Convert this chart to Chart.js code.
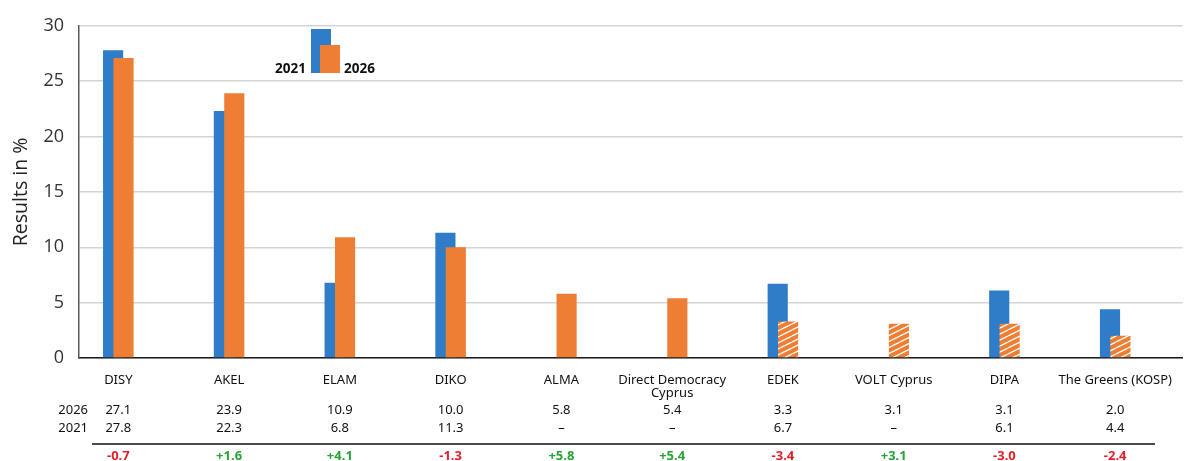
<!DOCTYPE html>
<html>
<head>
<meta charset="utf-8">
<script src="https://cdn.jsdelivr.net/npm/chart.js@4.4.1/dist/chart.umd.min.js"></script>
<style>
  html, body { margin: 0; padding: 0; background: #fff; }
  canvas { display: block; }
</style>
</head>
<body>
<canvas id="chart" width="1188" height="461"></canvas>
<script>
// ── Cyprus parliamentary election: 2021 vs 2026 ──

const parties = ['DISY', 'AKEL', 'ELAM', 'DIKO', 'ALMA', ['Direct Democracy', 'Cyprus'], 'EDEK', 'VOLT Cyprus', 'DIPA', 'The Greens (KOSP)'];
const results2021 = [27.8, 22.3, 6.8, 11.3, null, null, 6.7, null, 6.1, 4.4];
const results2026 = [27.1, 23.9, 10.9, 10.0, 5.8, 5.4, 3.3, 3.1, 3.1, 2.0];
const hatched2026 = [false, false, false, false, false, false, true, true, true, true];
const changes = ['-0.7', '+1.6', '+4.1', '-1.3', '+5.8', '+5.4', '-3.4', '+3.1', '-3.0', '-2.4'];
const yTicks = [0, 5, 10, 15, 20, 25, 30];
const seriesLabels = ['2021', '2026'];

const BLUE = '#2f7cc8';
const ORANGE = '#ee7e33';
const TABLE_FONT = '"Noto Sans", sans-serif';

// x range: group centres sit ~40px right of the y axis, 111px apart
const X_MIN = -0.355, X_MAX = 9.609;
const SHIFT = 0.047; // half the blue/orange offset, in category units

function hatchPattern() {
  const c = document.createElement('canvas');
  c.width = 12; c.height = 6;
  const g = c.getContext('2d');
  g.fillStyle = ORANGE;
  g.fillRect(0, 0, 12, 6);
  g.strokeStyle = '#fff';
  g.lineWidth = 1.3;
  for (const dy of [-6, 0, 6]) {
    g.beginPath();
    g.moveTo(0, 6 + dy);
    g.lineTo(12, dy);
    g.stroke();
  }
  return g.createPattern(c, 'repeat');
}

const hatch = hatchPattern();
const fmt = v => v == null ? '–' : v.toFixed(1);

// legend: small bar pair with year labels
const legendPlugin = {
  id: 'yearLegend',
  afterDatasetsDraw(chart) {
    const ctx = chart.ctx;
    ctx.save();
    ctx.fillStyle = BLUE;
    ctx.fillRect(311, 29, 20, 44);
    ctx.fillStyle = ORANGE;
    ctx.fillRect(320, 45, 20, 28);
    ctx.fillStyle = '#111';
    ctx.font = 'bold 13.5px ' + TABLE_FONT;
    ctx.textBaseline = 'alphabetic';
    ctx.textAlign = 'right';
    ctx.fillText(seriesLabels[0], 306, 73);
    ctx.textAlign = 'left';
    ctx.fillText(seriesLabels[1], 344, 73);
    ctx.restore();
  }
};

// value table under the category labels
const tablePlugin = {
  id: 'valueTable',
  afterDraw(chart) {
    const ctx = chart.ctx;
    const x = chart.scales.x;
    ctx.save();
    ctx.textBaseline = 'middle';
    ctx.font = '13px ' + TABLE_FONT;
    ctx.fillStyle = '#111';
    ctx.textAlign = 'right';
    ctx.fillText(seriesLabels[1], 88, 410);
    ctx.fillText(seriesLabels[0], 88, 428);
    ctx.textAlign = 'center';
    parties.forEach((p, i) => {
      const px = x.getPixelForValue(i);
      ctx.font = '13px ' + TABLE_FONT;
      ctx.fillStyle = '#111';
      ctx.fillText(fmt(results2026[i]), px, 410);
      ctx.fillText(fmt(results2021[i]), px, 428);
      ctx.font = 'bold 13px ' + TABLE_FONT;
      ctx.fillStyle = changes[i][0] === '-' ? '#e3202a' : '#2aa336';
      ctx.fillText(changes[i], px, 456);
    });
    ctx.strokeStyle = '#111';
    ctx.lineWidth = 1.5;
    ctx.beginPath();
    ctx.moveTo(92, 444);
    ctx.lineTo(1155, 444);
    ctx.stroke();
    ctx.restore();
  }
};

const hiddenX = (min, max) => ({
  type: 'linear', display: false, offset: false, bounds: 'data', min, max,
  grid: { display: false }
});

new Chart(document.getElementById('chart'), {
  type: 'bar',
  data: {
    // orange first so it is painted on top of the blue bar
    datasets: [
      {
        label: seriesLabels[1],
        xAxisID: 'xo',
        data: results2026.map((v, i) => ({ x: i, y: v })),
        backgroundColor: hatched2026.map(h => h ? hatch : ORANGE)
      },
      {
        label: seriesLabels[0],
        xAxisID: 'xb',
        data: results2021.map((v, i) => ({ x: i, y: v })),
        backgroundColor: BLUE
      }
    ]
  },
  options: {
    responsive: false,
    animation: false,
    grouped: false,
    categoryPercentage: 1,
    barPercentage: 0.182,
    layout: { padding: { top: 22, left: 0, right: 0, bottom: 0 } },
    plugins: { legend: { display: false }, tooltip: { enabled: false } },
    scales: {
      x: {
        type: 'linear',
        offset: false,
        bounds: 'data',
        min: X_MIN,
        max: X_MAX,
        afterBuildTicks: s => { s.ticks = parties.map((_, i) => ({ value: i })); },
        afterFit: s => { s.height = 103; },
        grid: { display: false, drawTicks: false },
        border: { display: true, color: '#1a1a1a', width: 1.5 },
        ticks: {
          autoSkip: false,
          maxRotation: 0,
          padding: 16,
          color: '#111',
          font: { family: TABLE_FONT, size: 13, lineHeight: 1.0 },
          callback: v => parties[v]
        }
      },
      xb: hiddenX(X_MIN + SHIFT, X_MAX + SHIFT),
      xo: hiddenX(X_MIN - SHIFT, X_MAX - SHIFT),
      y: {
        min: 0,
        max: 30,
        afterBuildTicks: s => { s.ticks = yTicks.map(v => ({ value: v })); },
        afterFit: s => { s.width = 79; },
        grid: { color: '#d4d4d4', lineWidth: 1.5, drawTicks: false },
        border: { display: true, color: '#595959', width: 1.5 },
        ticks: {
          padding: 15,
          color: '#333',
          font: { family: '"Open Sans", sans-serif', size: 18 }
        },
        title: {
          display: true,
          text: 'Results in %',
          color: '#222',
          padding: { top: 10, bottom: 0 },
          font: { family: '"Open Sans", sans-serif', size: 19.5 }
        }
      }
    }
  },
  plugins: [legendPlugin, tablePlugin]
});
</script>
</body>
</html>
